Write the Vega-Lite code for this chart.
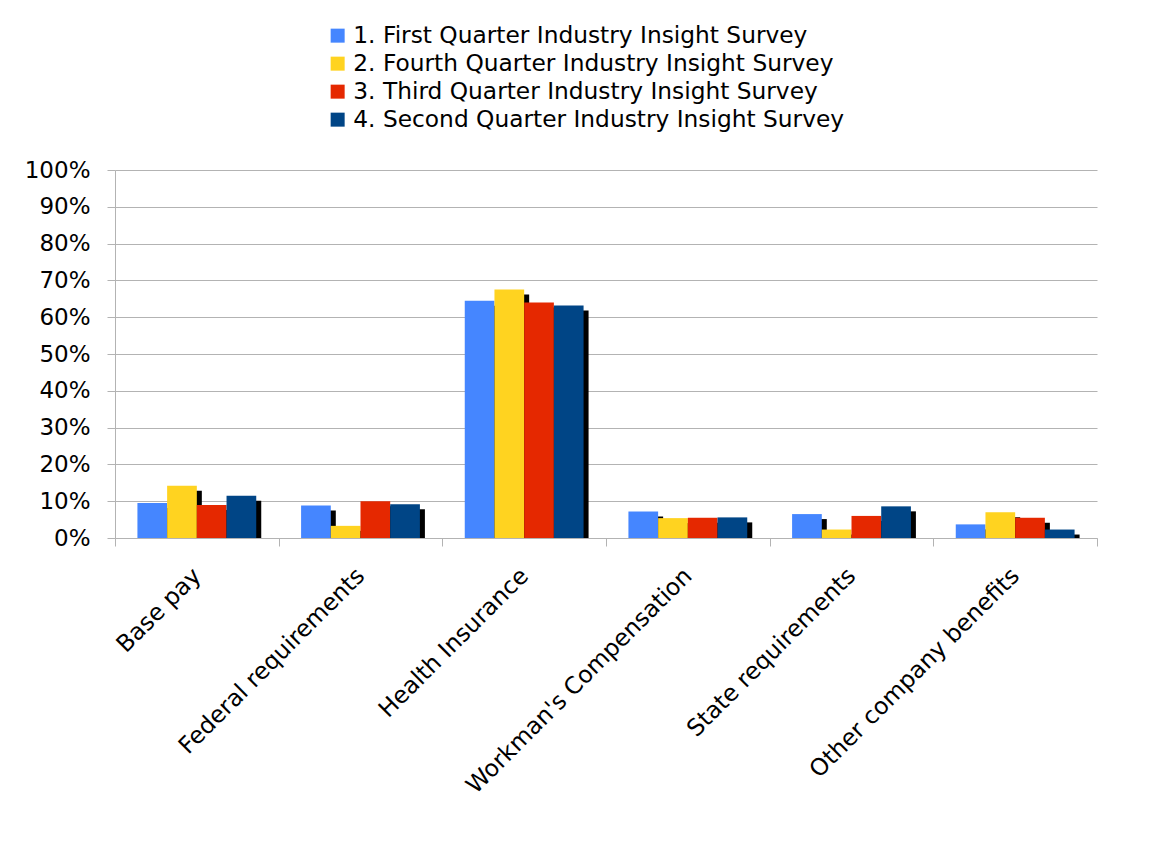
{
  "$schema": "https://vega.github.io/schema/vega-lite/v6.json",
  "autosize": "none",
  "width": 982,
  "height": 368,
  "padding": {"left": 115, "top": 170, "right": 57, "bottom": 306},
  "background": "white",
  "config": {
    "font": "DejaVu Sans",
    "view": {"stroke": null},
    "axis": {"labelFont": "DejaVu Sans", "labelColor": "#000000"}
  },
  "data": {
    "values": [
      {"category": "Base pay", "survey": "1. First Quarter Industry Insight Survey", "value": 0.095},
      {"category": "Base pay", "survey": "2. Fourth Quarter Industry Insight Survey", "value": 0.142},
      {"category": "Base pay", "survey": "3. Third Quarter Industry Insight Survey", "value": 0.090},
      {"category": "Base pay", "survey": "4. Second Quarter Industry Insight Survey", "value": 0.115},
      {"category": "Federal requirements", "survey": "1. First Quarter Industry Insight Survey", "value": 0.088},
      {"category": "Federal requirements", "survey": "2. Fourth Quarter Industry Insight Survey", "value": 0.033},
      {"category": "Federal requirements", "survey": "3. Third Quarter Industry Insight Survey", "value": 0.100},
      {"category": "Federal requirements", "survey": "4. Second Quarter Industry Insight Survey", "value": 0.092},
      {"category": "Health Insurance", "survey": "1. First Quarter Industry Insight Survey", "value": 0.645},
      {"category": "Health Insurance", "survey": "2. Fourth Quarter Industry Insight Survey", "value": 0.675},
      {"category": "Health Insurance", "survey": "3. Third Quarter Industry Insight Survey", "value": 0.640},
      {"category": "Health Insurance", "survey": "4. Second Quarter Industry Insight Survey", "value": 0.632},
      {"category": "Workman's Compensation", "survey": "1. First Quarter Industry Insight Survey", "value": 0.072},
      {"category": "Workman's Compensation", "survey": "2. Fourth Quarter Industry Insight Survey", "value": 0.054},
      {"category": "Workman's Compensation", "survey": "3. Third Quarter Industry Insight Survey", "value": 0.055},
      {"category": "Workman's Compensation", "survey": "4. Second Quarter Industry Insight Survey", "value": 0.056},
      {"category": "State requirements", "survey": "1. First Quarter Industry Insight Survey", "value": 0.065},
      {"category": "State requirements", "survey": "2. Fourth Quarter Industry Insight Survey", "value": 0.023},
      {"category": "State requirements", "survey": "3. Third Quarter Industry Insight Survey", "value": 0.060},
      {"category": "State requirements", "survey": "4. Second Quarter Industry Insight Survey", "value": 0.086},
      {"category": "Other company benefits", "survey": "1. First Quarter Industry Insight Survey", "value": 0.037},
      {"category": "Other company benefits", "survey": "2. Fourth Quarter Industry Insight Survey", "value": 0.070},
      {"category": "Other company benefits", "survey": "3. Third Quarter Industry Insight Survey", "value": 0.055},
      {"category": "Other company benefits", "survey": "4. Second Quarter Industry Insight Survey", "value": 0.023}
    ]
  },
  "encoding": {
    "x": {
      "field": "category",
      "type": "nominal",
      "sort": null,
      "scale": {"paddingInner": 0, "paddingOuter": 0},
      "axis": {
        "title": null,
        "labelAngle": -45,
        "labelAlign": "right",
        "labelBaseline": "middle",
        "labelFontSize": 23.5,
        "labelPadding": 26,
        "labelLimit": 0,
        "tickBand": "extent",
        "tickSize": 8,
        "tickColor": "#b3b3b3",
        "domainColor": "#b3b3b3",
        "grid": false,
        "labelOverlap": false
      }
    },
    "y": {
      "field": "value",
      "type": "quantitative",
      "scale": {"domain": [0, 1], "nice": false},
      "axis": {
        "title": null,
        "format": ".0%",
        "values": [0, 0.1, 0.2, 0.3, 0.4, 0.5, 0.6, 0.7, 0.8, 0.9, 1.0],
        "labelFontSize": 23,
        "labelPadding": 17,
        "tickSize": 8,
        "tickColor": "#b3b3b3",
        "domainColor": "#b3b3b3",
        "gridColor": "#b3b3b3",
        "gridWidth": 1
      }
    }
  },
  "resolve": {"scale": {"xOffset": "independent"}},
  "layer": [
    {
      "mark": {"type": "bar", "color": "#000000", "yOffset": 5, "clip": true},
      "encoding": {
        "xOffset": {
          "field": "survey",
          "type": "nominal",
          "scale": {"paddingInner": 0, "paddingOuter": 0.755, "range": [5, 168.67]}
        }
      }
    },
    {
      "mark": {"type": "bar"},
      "encoding": {
        "xOffset": {
          "field": "survey",
          "type": "nominal",
          "scale": {"paddingInner": 0, "paddingOuter": 0.755, "range": [0, 163.67]}
        },
        "color": {
          "field": "survey",
          "type": "nominal",
          "scale": {"range": ["#4586ff", "#ffd320", "#e52800", "#004586"]},
          "legend": {
            "title": null,
            "orient": "none",
            "legendX": 211,
            "legendY": -146,
            "direction": "vertical",
            "symbolType": "square",
            "symbolSize": 196,
            "symbolStrokeWidth": 0,
            "labelFontSize": 23.3,
            "labelFont": "DejaVu Sans",
            "labelColor": "#000000",
            "labelLimit": 0,
            "labelOffset": 4,
            "rowPadding": 4
          }
        }
      }
    }
  ]
}
